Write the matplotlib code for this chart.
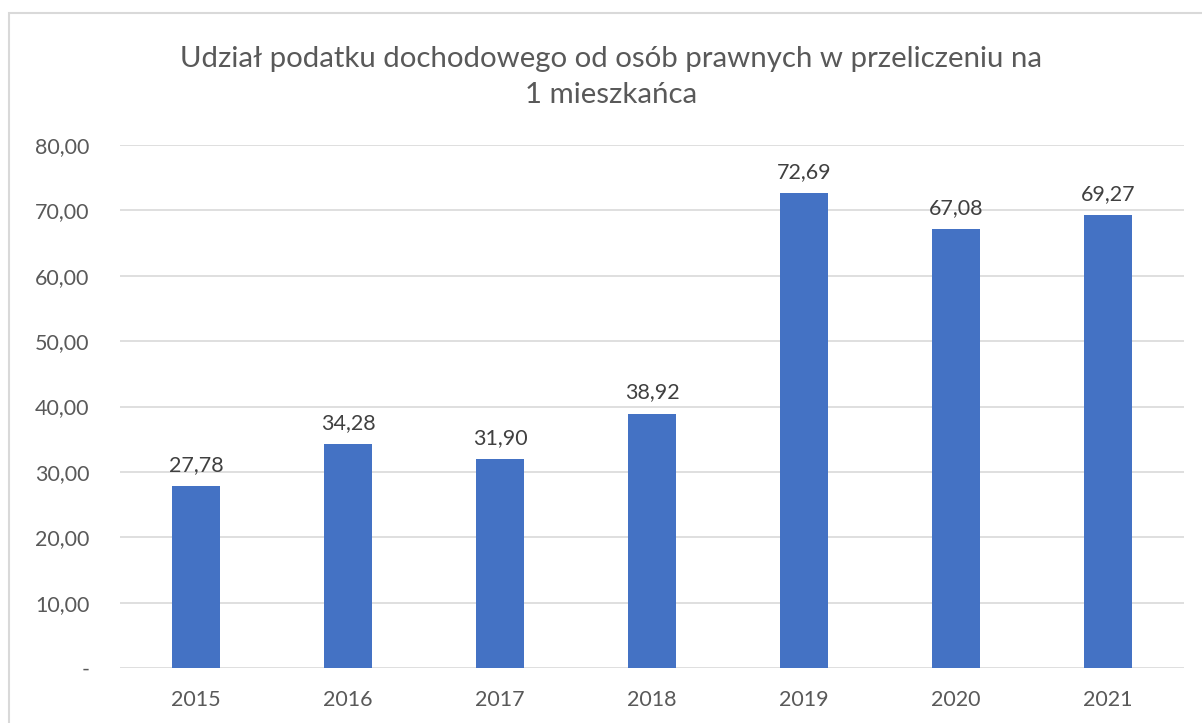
import matplotlib.pyplot as plt
from matplotlib.patches import Rectangle
from matplotlib.ticker import FixedLocator, FuncFormatter

years = ["2015", "2016", "2017", "2018", "2019", "2020", "2021"]
values = [27.78, 34.28, 31.90, 38.92, 72.69, 67.08, 69.27]
y_ticks = [0, 10, 20, 30, 40, 50, 60, 70, 80]
title = "Udział podatku dochodowego od osób prawnych w przeliczeniu na\n1 mieszkańca"

plt.rcParams["font.family"] = ["Lato", "DejaVu Sans"]

W, H = 1202, 723
fig = plt.figure(figsize=(W / 100, H / 100), dpi=100)

# chart area frame (open to the right and bottom)
fig.add_artist(Rectangle((9 / W, -0.1), 1.2, 1 - 13 / H + 0.1,
                         transform=fig.transFigure, fill=False,
                         edgecolor="#D9D9D9", linewidth=1.5))

left, right, top, bottom = 120, 1184, 145, 668
ax = fig.add_axes([left / W, 1 - bottom / H, (right - left) / W, (bottom - top) / H])

x = range(len(years))
bars = ax.bar(x, values, width=0.31, color="#4472C4", zorder=3)

ax.set_xlim(-0.5, len(years) - 0.5)
ax.set_ylim(0, 80)
ax.yaxis.set_major_locator(FixedLocator(y_ticks))


def fmt(v, pos=None):
    if v == 0:
        return "-"
    return f"{v:.2f}".replace(".", ",")


ax.yaxis.set_major_formatter(FuncFormatter(fmt))
ax.set_xticks(list(x))
ax.set_xticklabels(years)

ax.grid(axis="y", color="#D9D9D9", linewidth=1.2, zorder=0)
for s in ax.spines.values():
    s.set_visible(False)
ax.tick_params(axis="both", length=0, labelsize=15.5, labelcolor="#595959")
ax.tick_params(axis="y", pad=22)
ax.tick_params(axis="x", pad=16)

for xi, v in zip(x, values):
    ax.annotate(fmt(v), (xi, v), xytext=(0, 8), textcoords="offset points",
                ha="center", va="bottom", fontsize=15.5, color="#404040")

fig.text(611 / W, 1 - 77 / H, title, ha="center", va="center",
         fontsize=21.2, color="#595959", linespacing=1.5)

fig.savefig("out.png", dpi=100)
